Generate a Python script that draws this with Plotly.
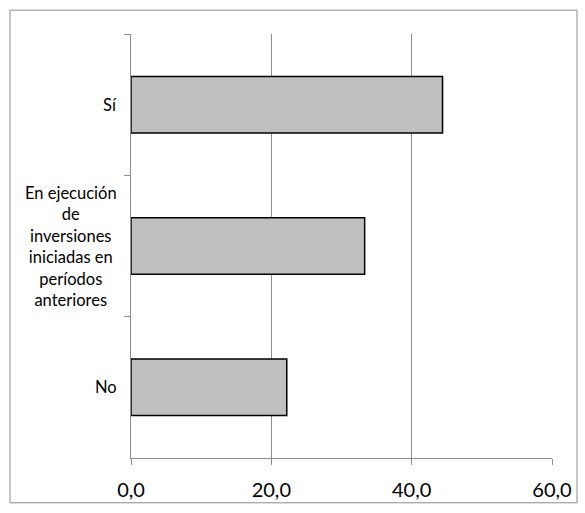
import plotly.graph_objects as go

categories = ["Sí", "En ejecución de inversiones iniciadas en períodos anteriores", "No"]
labels = ["Sí", "En ejecución<br>de<br>inversiones<br>iniciadas en<br>períodos<br>anteriores", "No"]
values = [44.4, 33.3, 22.2]
x_ticks = [0, 20, 40, 60]

W, H = 585, 513
ML, MR, MT, MB = 131, 33, 34, 53
pw, ph = W - ML - MR, H - MT - MB

fig = go.Figure(go.Bar(
    y=categories, x=values, orientation="h",
    marker=dict(color="#C0C0C0", line=dict(color="#000000", width=1.5)),
))

grid = "#8C8C8C"
fig.update_layout(
    width=W, height=H,
    margin=dict(l=ML, r=MR, t=MT, b=MB),
    paper_bgcolor="white", plot_bgcolor="white",
    separators=",.",
    bargap=0.6,
    showlegend=False,
    font=dict(family="Lato", color="#000000"),
)
fig.update_xaxes(
    range=[0, 60], tickvals=x_ticks, tickformat=".1f",
    showgrid=True, gridcolor=grid, gridwidth=1,
    showline=True, linecolor=grid, linewidth=1,
    ticks="outside", ticklen=6, tickcolor=grid,
    tickfont=dict(size=20), zeroline=False,
    ticklabelstandoff=8,
)
fig.update_yaxes(
    categoryorder="array", categoryarray=categories, autorange="reversed",
    showticklabels=False, showgrid=False,
    showline=True, linecolor=grid, linewidth=1,
    ticks="outside", ticklen=6, tickcolor=grid, tickson="boundaries",
)
for c, lab in zip(categories, labels):
    fig.add_annotation(
        x=0, xref="paper", y=c, yref="y", text=lab, showarrow=False,
        xanchor="right", xshift=-12, align="center",
        font=dict(size=16.5, family="Lato"),
    )

# outer chart border
fig.add_shape(
    type="rect", xref="paper", yref="paper",
    x0=(10 - ML) / pw, x1=(577 - ML) / pw,
    y0=(H - MB - 505) / ph, y1=(H - MB - 10) / ph,
    line=dict(color=grid, width=1),
)

fig.write_html("out.html", config={"displayModeBar": False},
               post_script="document.body.style.margin='0';")
